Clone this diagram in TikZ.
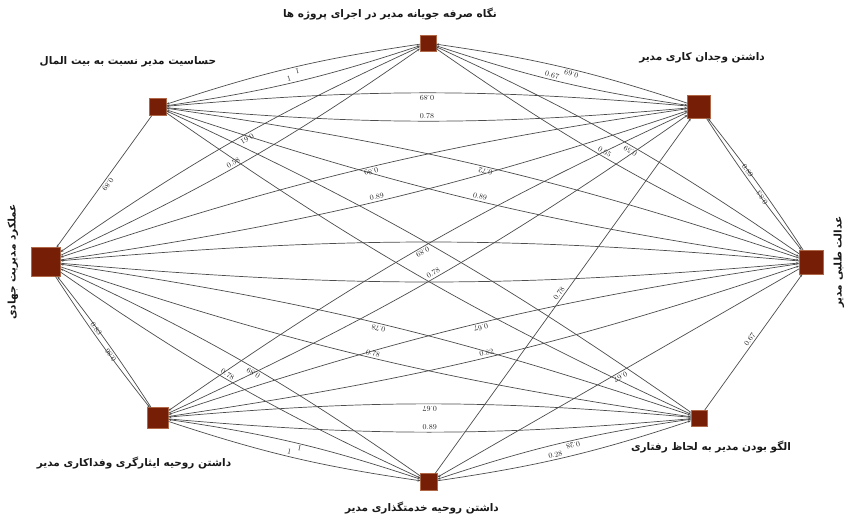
\documentclass[tikz,border=0pt]{standalone}
\usepackage{fontspec}
\usetikzlibrary{arrows.meta}
\TeXXeTstate=1
\newfontfamily\fafont[Script=Arabic]{DejaVu Sans}
\definecolor{nodefill}{RGB}{118,30,6}
\definecolor{nodeedge}{RGB}{176,104,72}
\definecolor{arcgray}{RGB}{76,76,76}
\tikzset{
  vertex/.style={draw=nodeedge, line width=0.5pt, fill=nodefill, minimum size=#1, inner sep=0pt, outer sep=0pt},
  vtext/.style={font=\fafont\bfseries\fontsize{10.5}{12}\selectfont, inner sep=0pt, text=black!90},
  link/.style={draw=arcgray, line width=0.7pt, -{Stealth[length=3pt,width=2.4pt]}},
  twoway/.style={link, bend right=5},
  near/.style={bend right=2.5},
  weight/.style={sloped, allow upside down, above=1pt, pos=0.5, inner sep=0.8pt,
    font=\fontsize{7.5}{7.5}\selectfont, text=black!85},
}
\begin{document}
\begin{tikzpicture}[x=1pt,y=-1pt]
\useasboundingbox (0,0) rectangle (847,523);
% vertices round the ring
\node[vertex=17pt] (A) at (158,107) {};
\node[vertex=16pt] (B) at (428,43) {};
\node[vertex=23pt] (C) at (699,107) {};
\node[vertex=24pt] (D) at (811,262) {};
\node[vertex=16pt] (E) at (699,418) {};
\node[vertex=17pt] (F) at (429,482) {};
\node[vertex=21pt] (G) at (158,418) {};
\node[vertex=29pt] (H) at (46,262) {};
% vertex captions
\node[vtext] (At) at (128,62) {\beginR حساسیت مدیر نسبت به بیت المال\endR};
\node[vtext] (Bt) at (390,14) {\beginR نگاه صرفه جویانه مدیر در اجرای پروژه ها\endR};
\node[vtext] (Ct) at (702,58) {\beginR داشتن وجدان کاری مدیر\endR};
\node[vtext, rotate=90] (Dt) at (839,262) {\beginR عدالت طلبی مدیر\endR};
\node[vtext] (Et) at (711,447) {\beginR الگو بودن مدیر به لحاظ رفتاری\endR};
\node[vtext] (Ft) at (422,508) {\beginR داشتن روحیه خدمتگذاری مدیر\endR};
\node[vtext] (Gt) at (134,463) {\beginR داشتن روحیه ایثارگری وفداکاری مدیر\endR};
\node[vtext, rotate=90] (Ht) at (13,262) {\beginR عملکرد مدیریت جهادی\endR};
% arcs between neighbours on the ring
\draw[link] (A) -- node[weight]{0.89} (H);
\draw[twoway] (B) to node[weight,pos=.48]{1} (A);
\draw[twoway] (A) to node[weight,pos=.48]{1} (B);
\draw[twoway] (C) to node[weight,pos=.46]{0.69} (B);
\draw[twoway] (B) to node[weight,pos=.46]{0.67} (C);
\draw[twoway,near] (D) to node[weight,pos=.40]{0.83} (C);
\draw[twoway,near] (C) to node[weight,pos=.40]{0.89} (D);
\draw[link] (E) -- node[weight]{0.67} (D);
\draw[twoway] (E) to node[weight,pos=.46]{0.28} (F);
\draw[twoway] (F) to node[weight,pos=.46]{0.28} (E);
\draw[twoway] (G) to node[weight,pos=.48]{1} (F);
\draw[twoway] (F) to node[weight,pos=.48]{1} (G);
\draw[twoway,near] (G) to node[weight,pos=.40]{0.86} (H);
\draw[twoway,near] (H) to node[weight,pos=.40]{0.83} (G);
% long arcs
\draw[twoway] (C) to node[weight]{0.89} (A);
\draw[twoway] (A) to node[weight]{0.78} (C);
\draw[twoway] (D) to node[weight]{0.72} (A);
\draw[twoway] (A) to node[weight]{0.89} (D);
\draw[twoway] (E) to (A);
\draw[twoway] (A) to (E);
\draw[twoway] (D) to node[weight,pos=.47]{0.59} (B);
\draw[twoway] (B) to node[weight,pos=.47]{0.65} (D);
\draw[twoway] (B) to node[weight,pos=.47]{0.61} (H);
\draw[twoway] (H) to node[weight,pos=.47]{0.58} (B);
\draw[twoway] (C) to node[weight]{0.89} (H);
\draw[twoway] (H) to node[weight]{0.89} (C);
\draw[twoway] (C) to node[weight]{0.89} (G);
\draw[twoway] (G) to node[weight]{0.78} (C);
\draw[link] (F) -- node[weight]{0.78} (C);
\draw[twoway] (D) to (H);
\draw[twoway] (H) to (D);
\draw[twoway] (D) to node[weight]{0.67} (G);
\draw[twoway] (G) to node[weight]{0.82} (D);
\draw[link] (D) -- node[weight]{0.67} (F);
\draw[twoway] (E) to node[weight]{0.78} (H);
\draw[twoway] (H) to node[weight]{0.78} (E);
\draw[twoway] (E) to node[weight]{0.67} (G);
\draw[twoway] (G) to node[weight]{0.89} (E);
\draw[twoway] (F) to node[weight,pos=.47]{0.89} (H);
\draw[twoway] (H) to node[weight,pos=.47]{0.78} (F);
\end{tikzpicture}
\end{document}
